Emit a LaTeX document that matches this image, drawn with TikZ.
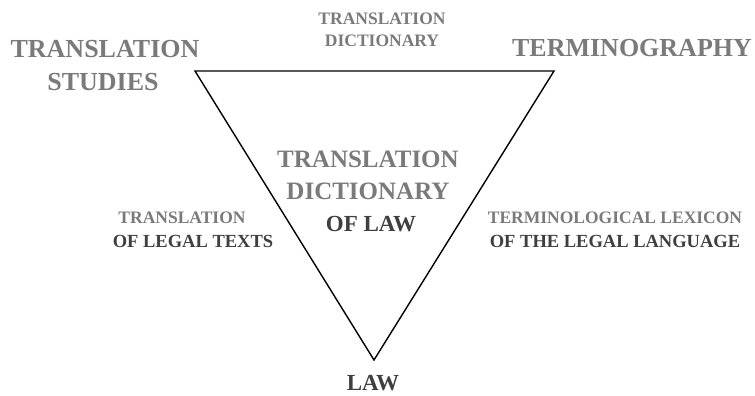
\documentclass[tikz,border=0pt]{standalone}
\usepackage{fontspec}
\setmainfont{Liberation Serif}
\definecolor{lgray}{HTML}{7A7A7A}
\definecolor{dgray}{HTML}{3F3F3F}
\begin{document}
\begin{tikzpicture}[x=1pt,y=-1pt,
  lbl/.style={inner sep=0pt,anchor=base,font=\bfseries},
  big/.style={lbl,text=lgray,font=\bfseries\fontsize{26}{30}\selectfont},
  mid/.style={lbl,text=lgray,font=\bfseries\fontsize{25}{30}\selectfont},
  small/.style={lbl,text=lgray,font=\bfseries\fontsize{17.5}{20}\selectfont},
  smalld/.style={lbl,text=dgray,font=\bfseries\fontsize{18.5}{20}\selectfont},
  bigd/.style={lbl,text=dgray,font=\bfseries\fontsize{23}{26}\selectfont}]
\useasboundingbox (0,0) rectangle (755,396);
\coordinate (tl) at (195,71);
\coordinate (tr) at (554,71);
\coordinate (bt) at (374,360);
\draw[line width=1.4pt,line join=miter] (tl) -- (tr) -- (bt) -- cycle;
\node[big] (ts1) at (105,58) {TRANSLATION};
\node[big] (ts2) at (103,90) {STUDIES};
\node[small] (td1) at (382,25) {TRANSLATION};
\node[small] (td2) at (382,47) {DICTIONARY};
\node[big] (term) at (632,57) {TERMINOGRAPHY};
\node[mid] (c1) at (368,167) {TRANSLATION};
\node[mid] (c2) at (368,199) {DICTIONARY};
\node[bigd] (c3) at (371,231) {OF LAW};
\node[small] (l1) at (182,223) {TRANSLATION};
\node[smalld] (l2) at (193,247) {OF LEGAL TEXTS};
\node[small] (r1) at (615,223) {TERMINOLOGICAL LEXICON};
\node[smalld] (r2) at (615,247) {OF THE LEGAL LANGUAGE};
\node[bigd] (law) at (373,390) {LAW};
\end{tikzpicture}
\end{document}
